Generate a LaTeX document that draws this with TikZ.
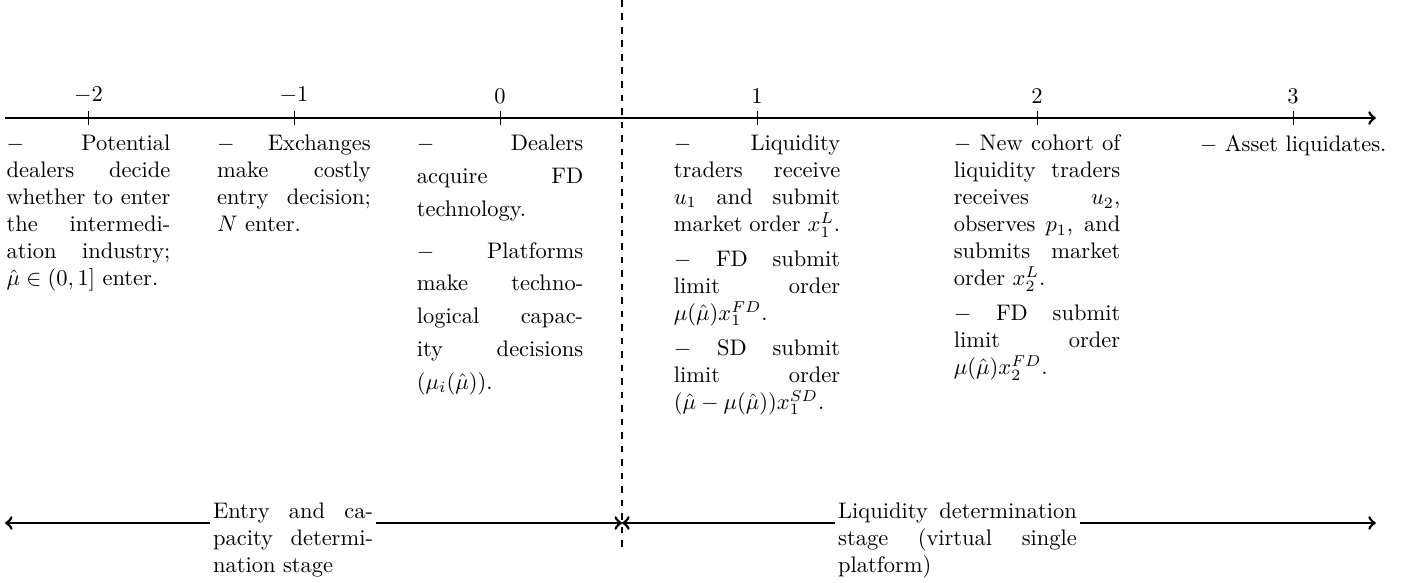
\documentclass[tikz,border=0pt]{standalone}
\usepackage{amsmath,amssymb}
\usetikzlibrary{positioning}
\setlength{\parindent}{0pt}
\hyphenation{decide intermedi-ation technology observes}

\begin{document}
\begin{tikzpicture}[
  axis/.style={very thick},
  tickmark/.style={thin},
  ticklabel/.style={font=\normalsize},
  event/.style={text width=2.6cm, align=justify, font=\normalsize},
  stage/.style={anchor=north, fill=white, inner sep=1.5pt, align=justify, font=\normalsize}
]
\useasboundingbox (0,1.843) rectangle (22.07,-7.263);

% Time axis
\coordinate (start) at (0.078,0);
\coordinate (end) at (21.49,0);
\coordinate (pm2) at (1.382,0);
\coordinate (pm1) at (4.592,0);
\coordinate (p0) at (7.810,0);
\coordinate (p1) at (11.824,0);
\coordinate (p2) at (16.198,0);
\coordinate (p3) at (20.197,0);
\draw[->, axis] (start) -- (end);

% Ticks
\draw[tickmark] ([yshift=3pt]pm2) -- ([yshift=-3pt]pm2);
\draw[tickmark] ([yshift=3pt]pm1) -- ([yshift=-3pt]pm1);
\draw[tickmark] ([yshift=3pt]p0) -- ([yshift=-3pt]p0);
\draw[tickmark] ([yshift=3pt]p1) -- ([yshift=-3pt]p1);
\draw[tickmark] ([yshift=3pt]p2) -- ([yshift=-3pt]p2);
\draw[tickmark] ([yshift=3pt]p3) -- ([yshift=-3pt]p3);
\node[ticklabel, above=3pt of pm2] (lm2) {$-2$};
\node[ticklabel, above=3pt of pm1] (lm1) {$-1$};
\node[ticklabel, above=3pt of p0] (l0) {$0$};
\node[ticklabel, above=3pt of p1] (l1) {$1$};
\node[ticklabel, above=3pt of p2] (l2) {$2$};
\node[ticklabel, above=3pt of p3] (l3) {$3$};

% Events
\node[event, text width=2.56cm, below=0.14cm of pm2] (em2) {%
  $-$ Potential dealers decide whether to enter the intermediation industry;
  $\hat{\mu}\in(0,1]$ enter.};
\node[event, text width=2.4cm, below=0.14cm of pm1] (em1) {%
  $-$ Exchanges make costly entry decision; $N$ enter.};
\node[event, font={\fontsize{10}{14.6}\selectfont}, below=0.14cm of p0] (e0) {%
  $-$ Dealers acquire FD technology.\\[4pt]
  $-$ Platforms make technological capacity decisions $(\mu_i(\hat{\mu}))$.};
\node[event, below=0.14cm of p1] (e1) {%
  $-$ Liquidity traders receive $u_1$ and submit market order $x_1^L$.\\[3.5pt]
  $-$ FD submit limit order $\mu(\hat{\mu})x_1^{FD}$.\\[3.5pt]
  $-$ SD submit limit order $(\hat{\mu}-\mu(\hat{\mu}))x_1^{SD}$.};
\node[event, below=0.14cm of p2] (e2) {%
  $-$ New cohort of liquidity traders receives $u_2$, observes $p_1$, and
  submits market order $x_2^L$.\\[3.5pt]
  $-$ FD submit limit order $\mu(\hat{\mu})x_2^{FD}$.};
\node[ticklabel, below=0.14cm of p3] (e3) {$-$ Asset liquidates.};

% Stage divider
\coordinate (dtop) at (9.716,1.843);
\coordinate (dbot) at (9.716,-6.779);
\draw[very thick, dashed] (dtop) -- (dbot);

% Stages
\coordinate (bl) at (0.078,-6.326);
\coordinate (bm) at (9.716,-6.326);
\coordinate (br) at (21.49,-6.326);
\draw[<->, axis] (bl) -- (bm);
\draw[<->, axis] (bm) -- (br);
\node[stage, text width=2.5cm] (entry) at (4.577,-5.951) {%
  Entry and capacity determination stage};
\node[stage, text width=3.73cm] (liq) at (14.956,-5.951) {%
  Liquidity determination stage (virtual single platform)};

\end{tikzpicture}
\end{document}
